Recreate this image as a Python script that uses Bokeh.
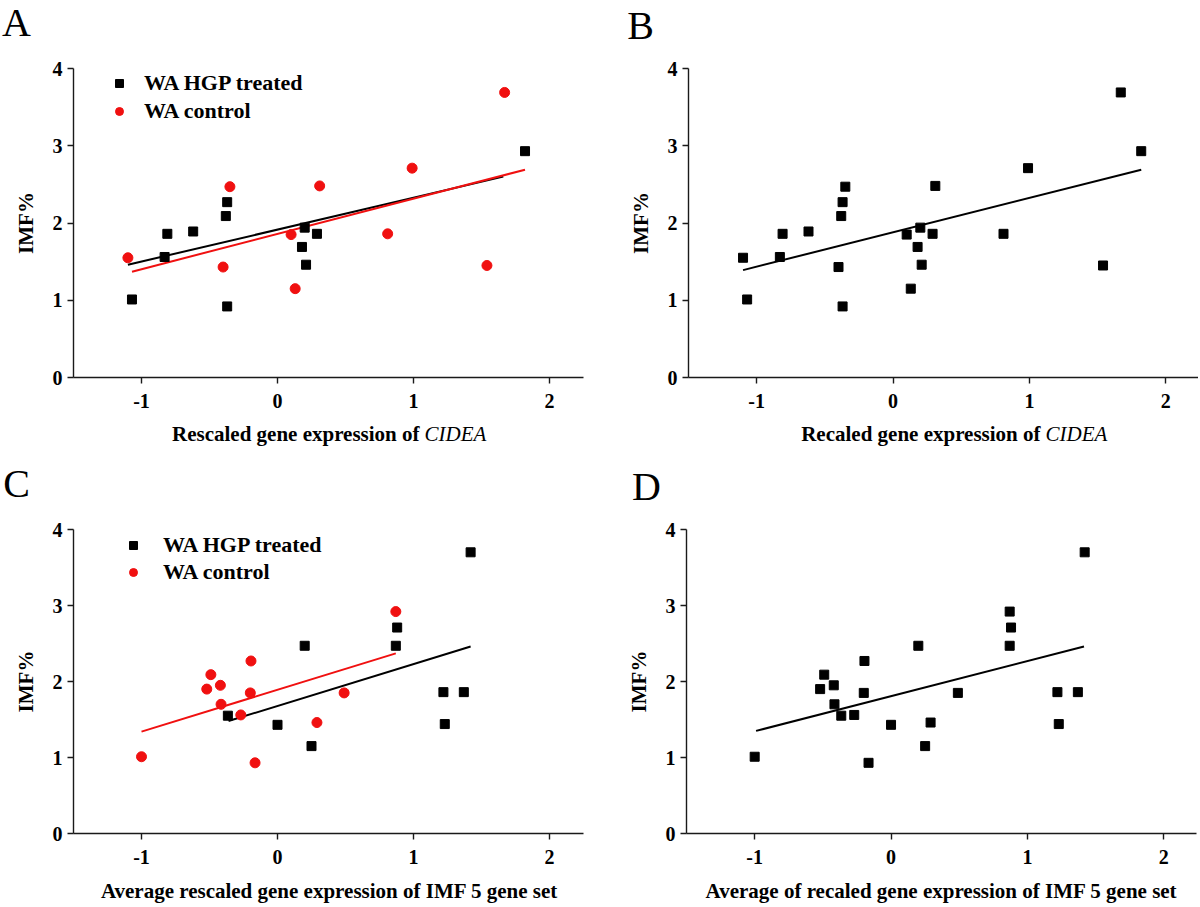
from bokeh.plotting import figure
from bokeh.models import Legend, LegendItem, FixedTicker, Range1d
from bokeh.layouts import column, row
from bokeh.core.properties import value
from bokeh.embed import file_html
from bokeh.resources import INLINE

# ---------------- data ----------------
# Panel A: rescaled gene expression of CIDEA vs IMF%
a_treated_x = [-1.07, -0.83, -0.81, -0.62, -0.38, -0.37, -0.37, 0.20, 0.18, 0.21, 0.29, 1.82]
a_treated_y = [1.01, 1.56, 1.86, 1.89, 2.09, 2.27, 0.92, 1.94, 1.69, 1.46, 1.86, 2.93]
a_control_x = [-1.10, -0.40, -0.35, 0.10, 0.13, 0.31, 0.81, 0.99, 1.54, 1.67]
a_control_y = [1.55, 1.43, 2.47, 1.85, 1.15, 2.48, 1.86, 2.71, 1.45, 3.69]
a_treated_fit_x = [-1.10, 1.66]
a_treated_fit_y = [1.46, 2.60]
a_control_fit_x = [-1.07, 1.82]
a_control_fit_y = [1.37, 2.69]

# Panel B: all animals pooled
b_x = a_treated_x + a_control_x
b_y = a_treated_y + a_control_y
b_fit_x = [-1.10, 1.82]
b_fit_y = [1.39, 2.69]

# Panel C: average rescaled expression of IMF 5 gene set vs IMF%
c_treated_x = [-0.365, 0.00, 0.20, 0.25, 0.87, 0.88, 1.22, 1.23, 1.37, 1.42]
c_treated_y = [1.55, 1.43, 2.47, 1.15, 2.47, 2.71, 1.86, 1.44, 1.86, 3.70]
c_control_x = [-1.00, -0.52, -0.49, -0.42, -0.415, -0.27, -0.20, -0.195, -0.165, 0.29, 0.49, 0.87]
c_control_y = [1.01, 1.90, 2.09, 1.95, 1.70, 1.56, 1.85, 2.27, 0.93, 1.46, 1.85, 2.92]
c_treated_fit_x = [-0.36, 1.42]
c_treated_fit_y = [1.48, 2.46]
c_control_fit_x = [-1.00, 0.87]
c_control_fit_y = [1.34, 2.37]

# Panel D: pooled
d_x = c_treated_x + c_control_x
d_y = c_treated_y + c_control_y
d_fit_x = [-0.99, 1.415]
d_fit_y = [1.35, 2.46]

x_ticks = [-1, 0, 1, 2]
x_tick_labels = {-1: "-1", 0: "0", 1: "1", 2: "2"}
y_ticks = [0, 1, 2, 3, 4]
legend_labels = ["WA HGP treated", "WA control"]
y_label = "IMF%"

SERIF = "Liberation Serif"
RED = "#f01010"
AXIS = "#1a1a1a"


def panel(ox, oy, w, h, fl, ft, fw, fh, x0, x1):
    p = figure(width=w, height=h, x_range=Range1d(x0, x1), y_range=Range1d(0, 4),
               output_backend="svg", toolbar_location=None,
               min_border_left=fl - ox, min_border_top=ft - oy,
               min_border_right=ox + w - fl - fw, min_border_bottom=oy + h - ft - fh)
    p.grid.visible = False
    p.outline_line_color = None
    p.xaxis.ticker = FixedTicker(ticks=x_ticks)
    p.xaxis.major_label_overrides = x_tick_labels
    p.yaxis.ticker = FixedTicker(ticks=y_ticks)
    for ax in (p.xaxis, p.yaxis):
        ax.axis_line_color = AXIS
        ax.axis_line_width = 1.4
        ax.major_tick_line_color = AXIS
        ax.major_tick_line_width = 1.4
        ax.major_tick_out = 6
        ax.major_tick_in = 0
        ax.minor_tick_line_color = None
        ax.major_label_text_font = SERIF
        ax.major_label_text_font_style = "bold"
        ax.major_label_text_font_size = "20px"
        ax.major_label_text_color = "black"
    p.xaxis.major_label_standoff = 10
    p.yaxis.major_label_standoff = 5
    p.yaxis.axis_label = y_label
    p.yaxis.axis_label_text_font = SERIF
    p.yaxis.axis_label_text_font_style = "bold"
    p.yaxis.axis_label_text_font_size = "21px"
    p.yaxis.axis_label_text_color = "black"
    p.yaxis.axis_label_standoff = 12
    return p


def add_legend(p, r1, r2, vx, vy, standoff, spacing):
    lg = Legend(items=[LegendItem(label=legend_labels[0], renderers=[r1]),
                       LegendItem(label=legend_labels[1], renderers=[r2])],
                location=(vx, vy), padding=0, margin=0, spacing=spacing,
                glyph_width=20, glyph_height=26, label_height=26,
                label_standoff=standoff, border_line_color=None,
                background_fill_alpha=0.0, label_text_font=SERIF,
                label_text_font_style="bold", label_text_font_size="22px",
                label_text_color="black")
    p.add_layout(lg)


def squares(p, x, y):
    return p.scatter(x, y, marker="square", size=9, color="black")


def dots(p, x, y):
    return p.scatter(x, y, marker="circle", size=10, color=RED)


def strip(w, h, y_top):
    s = figure(width=w, height=h, x_range=Range1d(0, w), y_range=Range1d(y_top + h, y_top),
               x_axis_type=None, y_axis_type=None, toolbar_location=None,
               output_backend="svg", min_border=0)
    s.outline_line_color = None
    return s


def put(s, x, y, t, size, style, align="center"):
    s.text(x=[x], y=[y], text=[t], text_font=value(SERIF), text_font_size=value(size),
           text_font_style=style, text_align=align, text_baseline="middle", text_color="black")


# ---------------- top strip: panel letters A, B ----------------
top = strip(1198, 48, 0)
put(top, 16, 22, "A", "40px", "normal")
put(top, 640, 25, "B", "40px", "normal")

# ---------------- Panel A ----------------
A = panel(0, 48, 600, 368, 73, 68, 510, 309, -1.5, 2.25)
A.line(a_treated_fit_x, a_treated_fit_y, line_width=2, color="black")
A.line(a_control_fit_x, a_control_fit_y, line_width=2, color=RED)
ra1 = squares(A, a_treated_x, a_treated_y)
ra2 = dots(A, a_control_x, a_control_y)
add_legend(A, ra1, ra2, 36, 253, 15, 2)

# ---------------- Panel B ----------------
B = panel(600, 48, 598, 368, 688, 68, 510, 309, -1.5, 2.24)
B.line(b_fit_x, b_fit_y, line_width=2, color="black")
squares(B, b_x, b_y)

# ---------------- middle strip: x titles of A, B; letters C, D ----------------
mid = strip(1198, 94, 416)
put(mid, 419, 433, "Rescaled gene expression of", "21px", "bold", "right")
put(mid, 424, 433, "CIDEA", "21px", "italic", "left")
put(mid, 1040, 433, "Recaled gene expression of", "21px", "bold", "right")
put(mid, 1045, 433, "CIDEA", "21px", "italic", "left")
put(mid, 16, 483, "C", "40px", "normal")
put(mid, 646, 486, "D", "40px", "normal")

# ---------------- Panel C ----------------
C = panel(0, 510, 600, 366, 73, 529, 510, 308, -1.5, 2.25)
C.line(c_control_fit_x, c_control_fit_y, line_width=2, color=RED)
C.line(c_treated_fit_x, c_treated_fit_y, line_width=2, color="black")
rc1 = squares(C, c_treated_x, c_treated_y)
rc2 = dots(C, c_control_x, c_control_y)
add_legend(C, rc1, rc2, 50, 248, 20, 1)

# ---------------- Panel D ----------------
D = panel(600, 510, 598, 366, 686, 526, 510, 307, -1.5, 2.24)
D.line(d_fit_x, d_fit_y, line_width=2, color="black")
squares(D, d_x, d_y)

# ---------------- bottom strip: x titles of C, D ----------------
bot = strip(1198, 29, 876)
put(bot, 329, 890, "Average rescaled gene expression of IMF 5 gene set", "21px", "bold")
put(bot, 941, 890, "Average of recaled gene expression of IMF 5 gene set", "21px", "bold")

layout = column(top, row(A, B), mid, row(C, D), bot)
open("out.html", "w").write(file_html(layout, INLINE))
